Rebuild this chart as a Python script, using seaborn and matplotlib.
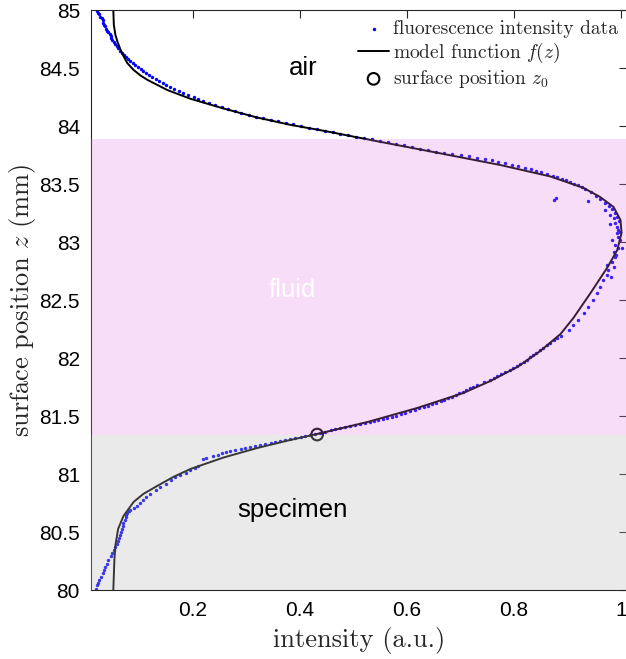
import numpy as np
import pandas as pd
import seaborn as sns
import matplotlib
matplotlib.use("Agg")
import matplotlib.pyplot as plt
from matplotlib.font_manager import FontProperties

# ---------------- data ----------------
# measured fluorescence intensity (x) vs surface position z (mm)
x_data = [0.021, 0.023, 0.025, 0.027, 0.029, 0.031, 0.032, 0.034, 0.036, 0.038,
          0.040, 0.042, 0.044, 0.046, 0.047, 0.049, 0.052, 0.055, 0.057, 0.060,
          0.064, 0.068, 0.071, 0.075, 0.079, 0.083, 0.087, 0.092, 0.097, 0.102,
          0.107, 0.113, 0.118, 0.124, 0.130, 0.137, 0.143, 0.150, 0.157, 0.165,
          0.173, 0.182, 0.191, 0.201, 0.210, 0.219, 0.230, 0.242, 0.254, 0.266,
          0.278, 0.290, 0.304, 0.318, 0.331, 0.345, 0.359, 0.373, 0.387, 0.401,
          0.416, 0.431, 0.446, 0.461, 0.475, 0.490, 0.505, 0.520, 0.535, 0.550,
          0.565, 0.580, 0.595, 0.610, 0.625, 0.640, 0.655, 0.670, 0.685, 0.700,
          0.715, 0.730, 0.745, 0.759, 0.771, 0.784, 0.796, 0.808, 0.820, 0.831,
          0.841, 0.851, 0.862, 0.872, 0.881, 0.890, 0.898, 0.905, 0.913, 0.920,
          0.927, 0.933, 0.943, 0.954, 0.961, 0.971, 0.978, 0.984, 0.989, 0.993,
          0.997,
          0.874, 0.878, 0.939,
          0.971, 0.980, 0.986, 0.980, 0.989, 0.993, 0.995, 0.999, 0.993, 0.995,
          0.999, 0.984, 0.989, 0.995, 1.001, 0.986, 0.991, 0.989, 0.984, 0.974,
          0.986, 0.976, 0.974, 0.982, 0.967, 0.961, 0.956, 0.948, 0.939, 0.930,
          0.920, 0.911, 0.902,
          0.887, 0.880, 0.874, 0.868, 0.862, 0.855, 0.849, 0.842, 0.836, 0.830,
          0.825, 0.818, 0.812, 0.806, 0.799, 0.792, 0.784, 0.776, 0.769, 0.762,
          0.756, 0.743, 0.731, 0.724, 0.718, 0.711, 0.705, 0.698, 0.692, 0.684,
          0.677, 0.670, 0.664, 0.655, 0.647, 0.639, 0.631, 0.622, 0.614, 0.605,
          0.597, 0.588, 0.580, 0.571, 0.563, 0.555, 0.546, 0.538, 0.530, 0.521,
          0.513, 0.503, 0.494, 0.485, 0.475, 0.466, 0.457, 0.447, 0.438, 0.428,
          0.419, 0.410, 0.401, 0.391, 0.382, 0.372, 0.363, 0.354, 0.345, 0.335,
          0.326, 0.316, 0.307, 0.298, 0.289, 0.279, 0.270, 0.262, 0.255, 0.246,
          0.238, 0.225, 0.219, 0.210, 0.203, 0.195, 0.186, 0.176, 0.167, 0.158,
          0.149, 0.139, 0.130, 0.120, 0.113, 0.107, 0.101, 0.096, 0.089, 0.083,
          0.080, 0.077, 0.075, 0.074, 0.072, 0.070, 0.069, 0.068, 0.066, 0.064,
          0.062, 0.059, 0.057, 0.055, 0.052, 0.049, 0.046, 0.042, 0.039, 0.036,
          0.033, 0.031, 0.028, 0.025, 0.023, 0.021, 0.019]
z_data = [84.990, 84.978, 84.966, 84.940, 84.927, 84.914, 84.888, 84.875, 84.862, 84.836,
          84.823, 84.810, 84.793, 84.776, 84.758, 84.741, 84.724, 84.707, 84.690, 84.672,
          84.650, 84.629, 84.612, 84.595, 84.578, 84.560, 84.543, 84.526, 84.508, 84.491,
          84.474, 84.457, 84.440, 84.422, 84.405, 84.388, 84.370, 84.353, 84.336, 84.319,
          84.302, 84.284, 84.268, 84.250, 84.233, 84.216, 84.198, 84.181, 84.164, 84.147,
          84.130, 84.112, 84.095, 84.078, 84.065, 84.052, 84.039, 84.026, 84.013, 84.000,
          83.987, 83.974, 83.961, 83.948, 83.935, 83.922, 83.909, 83.897, 83.884, 83.871,
          83.858, 83.845, 83.832, 83.819, 83.806, 83.793, 83.780, 83.767, 83.758, 83.750,
          83.739, 83.728, 83.716, 83.703, 83.690, 83.678, 83.665, 83.652, 83.639, 83.626,
          83.613, 83.600, 83.586, 83.572, 83.558, 83.545, 83.531, 83.518, 83.504, 83.490,
          83.475, 83.460, 83.431, 83.397, 83.371, 83.336, 83.310, 83.284, 83.250, 83.216,
          83.181,
          83.362, 83.379, 83.353,
          83.276, 83.233, 83.207, 83.155, 83.164, 83.129, 83.103, 83.086, 83.078, 83.043,
          83.017, 83.017, 82.974, 82.948, 82.948, 82.914, 82.888, 82.871, 82.828, 82.802,
          82.784, 82.759, 82.716, 82.698, 82.672, 82.612, 82.560, 82.500, 82.440, 82.388,
          82.328, 82.284, 82.241,
          82.190, 82.172, 82.155, 82.133, 82.112, 82.090, 82.069, 82.047, 82.026, 82.005,
          81.983, 81.965, 81.948, 81.931, 81.914, 81.896, 81.879, 81.862, 81.845, 81.827,
          81.810, 81.793, 81.767, 81.754, 81.741, 81.724, 81.707, 81.694, 81.681, 81.668,
          81.655, 81.642, 81.629, 81.616, 81.603, 81.590, 81.578, 81.565, 81.552, 81.539,
          81.526, 81.513, 81.500, 81.491, 81.483, 81.474, 81.466, 81.457, 81.448, 81.440,
          81.431, 81.422, 81.414, 81.405, 81.397, 81.388, 81.379, 81.366, 81.353, 81.345,
          81.336, 81.327, 81.319, 81.310, 81.302, 81.293, 81.284, 81.276, 81.267, 81.258,
          81.250, 81.241, 81.233, 81.224, 81.216, 81.207, 81.198, 81.190, 81.181, 81.168,
          81.155, 81.138, 81.129, 81.069, 81.052, 81.034, 81.012, 80.991, 80.970, 80.948,
          80.918, 80.888, 80.858, 80.828, 80.802, 80.776, 80.750, 80.724, 80.707, 80.690,
          80.677, 80.664, 80.646, 80.629, 80.603, 80.578, 80.552, 80.526, 80.500, 80.474,
          80.448, 80.422, 80.396, 80.371, 80.345, 80.319, 80.289, 80.259, 80.228, 80.198,
          80.172, 80.147, 80.116, 80.086, 80.064, 80.043, 80.009]

# model function f(z), traced from bottom to top
x_model = [0.051, 0.053, 0.055, 0.060, 0.070, 0.089, 0.107, 0.133, 0.163, 0.195,
           0.257, 0.320, 0.373, 0.432, 0.526, 0.619, 0.705, 0.756, 0.806, 0.849,
           0.887, 0.911, 0.943, 0.975, 0.993, 1.001, 0.999, 0.986, 0.961, 0.930,
           0.868, 0.774, 0.649, 0.545, 0.444, 0.382, 0.320, 0.257, 0.195, 0.152,
           0.115, 0.102, 0.089, 0.077, 0.070, 0.064, 0.059, 0.055, 0.052, 0.051]
z_model = [80.000, 80.259, 80.388, 80.526, 80.638, 80.759, 80.828, 80.897, 80.974, 81.043,
           81.142, 81.224, 81.284, 81.345, 81.448, 81.569, 81.698, 81.802, 81.922, 82.060,
           82.207, 82.345, 82.560, 82.784, 82.931, 83.078, 83.190, 83.302, 83.388, 83.466,
           83.565, 83.664, 83.776, 83.868, 83.959, 84.010, 84.073, 84.151, 84.235, 84.310,
           84.397, 84.435, 84.483, 84.543, 84.603, 84.664, 84.724, 84.784, 84.871, 85.000]

# surface position z0
x0 = 0.432
z0 = 81.34
fluid_top = 83.89

x_ticks = [0.2, 0.4, 0.6, 0.8, 1.0]
x_ticklabels = ["0.2", "0.4", "0.6", "0.8", "1"]
y_ticks = [80, 80.5, 81, 81.5, 82, 82.5, 83, 83.5, 84, 84.5, 85]
y_ticklabels = ["80", "80.5", "81", "81.5", "82", "82.5", "83", "83.5", "84", "84.5", "85"]

# ---------------- style ----------------
sns.set_style("white")
plt.rcParams["font.family"] = ["Liberation Sans", "DejaVu Sans"]
plt.rcParams["mathtext.fontset"] = "cm"

W, H = 626, 659
fig = plt.figure(figsize=(W / 100, H / 100), dpi=100)
fig.patch.set_facecolor("white")
ax = fig.add_axes([91 / W, 1 - 590 / H, 536 / W, 580 / H])

sns.scatterplot(x=x_data, y=z_data, ax=ax, color="#0000ff", s=6, marker="o",
                linewidth=0, label="fluorescence intensity data", zorder=2)
sns.lineplot(x=x_model, y=z_model, ax=ax, sort=False, estimator=None,
             color="black", linewidth=1.4, label=r"model function $f(z)$", zorder=2.1)
sns.scatterplot(x=[x0], y=[z0], ax=ax, color="none", edgecolor="black", s=70,
                linewidth=1.5, label=r"surface position $z_0$", zorder=2.2)

# shaded regions (drawn over the data, semi-transparent)
ax.axhspan(z0, fluid_top, color=(0.894, 0.47, 0.894), alpha=0.25, lw=0, zorder=3)
ax.axhspan(80, z0, color=(0.737, 0.737, 0.737), alpha=0.3, lw=0, zorder=3)

ax.set_xlim(0.0093, 1.0112)
ax.set_ylim(80, 85)
ax.set_xticks(x_ticks)
ax.set_xticklabels(x_ticklabels)
ax.set_yticks(y_ticks)
ax.set_yticklabels(y_ticklabels)
ax.tick_params(direction="in", length=6, width=0.8, top=True, right=True,
               labelsize=15, pad=8, color="#262626", labelcolor="black")
for sp in ax.spines.values():
    sp.set_visible(True)
    sp.set_color("#262626")
    sp.set_linewidth(0.8)

ax.set_xlabel("intensity (a.u.)", fontfamily="cmr10", fontsize=19, labelpad=5)
ax.set_ylabel(r"surface position $z$ (mm)", fontfamily="cmr10", fontsize=19, labelpad=1)

ax.text(0.406, 84.50, "air", fontsize=18.5, ha="center", va="center", color="black", zorder=5)
ax.text(0.386, 82.586, "fluid", fontsize=18.5, ha="center", va="center", color="white", zorder=5)
ax.text(0.386, 80.69, "specimen", fontsize=18.5, ha="center", va="center", color="black", zorder=5)

handles, labels = ax.get_legend_handles_labels()
ax.legend(handles, labels, loc="upper left", bbox_to_anchor=(358 / W, 1 - 20 / H),
          bbox_transform=fig.transFigure, frameon=False,
          prop=FontProperties(family="cmr10", size=14), handlelength=1.6,
          handletextpad=0.2, labelspacing=0.15, borderpad=0, borderaxespad=0)

fig.savefig("out.png", dpi=100, facecolor="white")
